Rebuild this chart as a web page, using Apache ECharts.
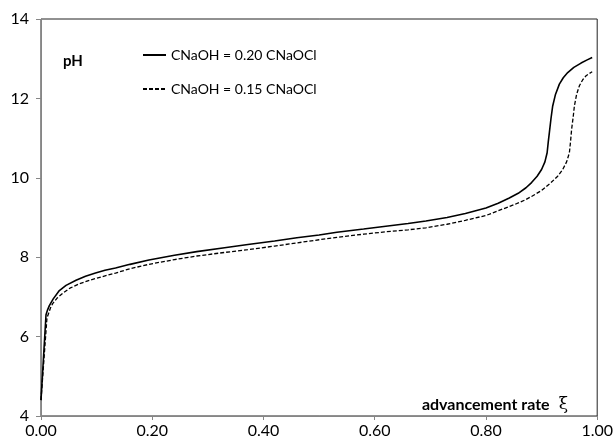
<!DOCTYPE html>
<html>
<head>
<meta charset="utf-8">
<script src="https://cdn.jsdelivr.net/npm/echarts@6/dist/echarts.min.js"></script>
<style>
  html, body { margin: 0; padding: 0; background: #fff; }
  #chart { width: 616px; height: 442px; }
</style>
</head>
<body>
<div id="chart"></div>
<script>
// advancement rate xi vs pH, two NaOH ratios
const seriesNames = ['CNaOH = 0.20 CNaOCl', 'CNaOH = 0.15 CNaOCl']

const ph020 = [
  [0, 4.4], [0.009, 6.55], [0.012, 6.68], [0.015, 6.78], [0.022, 6.95], [0.033, 7.16],
  [0.045, 7.29], [0.063, 7.42], [0.08, 7.52], [0.098, 7.60], [0.115, 7.67], [0.134, 7.73],
  [0.16, 7.82], [0.194, 7.93], [0.24, 8.05], [0.28, 8.14], [0.33, 8.24], [0.372, 8.32],
  [0.42, 8.41], [0.46, 8.49], [0.50, 8.56], [0.532, 8.63], [0.58, 8.71], [0.62, 8.78],
  [0.66, 8.85], [0.692, 8.91], [0.73, 9.00], [0.763, 9.10], [0.80, 9.24], [0.822, 9.36],
  [0.842, 9.49], [0.858, 9.61], [0.872, 9.75], [0.882, 9.88], [0.892, 10.04], [0.90, 10.21],
  [0.906, 10.40], [0.910, 10.63], [0.912, 10.90], [0.914, 11.14], [0.917, 11.50],
  [0.920, 11.81], [0.925, 12.10], [0.932, 12.36], [0.939, 12.52], [0.947, 12.65],
  [0.958, 12.78], [0.971, 12.89], [0.982, 12.97], [0.991, 13.03]
]

const ph015 = [
  [0, 4.4], [0.0107, 6.47], [0.014, 6.60], [0.017, 6.72], [0.021, 6.83], [0.029, 6.97],
  [0.039, 7.09], [0.052, 7.22], [0.069, 7.33], [0.09, 7.43], [0.11, 7.51], [0.134, 7.60],
  [0.16, 7.71], [0.194, 7.82], [0.24, 7.94], [0.28, 8.03], [0.33, 8.12], [0.372, 8.19],
  [0.42, 8.28], [0.46, 8.36], [0.50, 8.44], [0.532, 8.50], [0.58, 8.58], [0.62, 8.64],
  [0.66, 8.69], [0.692, 8.74], [0.73, 8.83], [0.763, 8.93], [0.80, 9.05], [0.822, 9.17],
  [0.852, 9.33], [0.87, 9.44], [0.882, 9.53], [0.90, 9.68], [0.917, 9.88], [0.929, 10.04],
  [0.938, 10.21], [0.945, 10.40], [0.950, 10.63], [0.952, 10.90], [0.954, 11.22],
  [0.957, 11.55], [0.959, 11.81], [0.963, 12.10], [0.968, 12.32], [0.974, 12.47],
  [0.98, 12.57], [0.986, 12.63], [0.991, 12.67]
]

const font = 'Lato, "Open Sans", sans-serif'

const chart = echarts.init(document.getElementById('chart'), null, { renderer: 'canvas' })

chart.setOption({
  animation: false,
  backgroundColor: '#fff',
  textStyle: { fontFamily: font, color: '#000' },
  grid: {
    left: 41, right: 13, top: 19, bottom: 26,
    show: true, borderColor: '#222', borderWidth: 1
  },
  legend: {
    orient: 'vertical',
    left: 142, top: 48,
    padding: 0,
    itemWidth: 23, itemHeight: 14, itemGap: 20,
    itemStyle: { opacity: 0 },
    textStyle: { fontFamily: font, fontSize: 14, color: '#000' },
    data: seriesNames
  },
  xAxis: {
    type: 'value',
    min: 0, max: 1, interval: 0.2,
    name: '{b|advancement rate}   {x|ξ}',
    nameLocation: 'end',
    nameGap: -29,
    nameTextStyle: {
      align: 'right', verticalAlign: 'bottom', padding: [0, 0, 3, 0],
      rich: {
        b: { fontFamily: font, fontWeight: 'bold', fontSize: 16, color: '#000' },
        x: { fontFamily: '"DejaVu Serif", "Liberation Serif", serif', fontSize: 17, color: '#000' }
      }
    },
    axisLine: { lineStyle: { color: '#868686', width: 1 } },
    axisTick: { show: true, length: 4, lineStyle: { color: '#868686' } },
    axisLabel: { fontSize: 16, color: '#000', margin: 7, formatter: v => v.toFixed(2) },
    splitLine: { show: false }
  },
  yAxis: {
    type: 'value',
    min: 4, max: 14, interval: 2,
    name: 'pH',
    nameLocation: 'end',
    nameGap: -42,
    nameTextStyle: {
      align: 'left', verticalAlign: 'middle', padding: [0, 0, 0, 22],
      fontFamily: font, fontWeight: 'bold', fontSize: 15, color: '#000'
    },
    axisLine: { show: true, lineStyle: { color: '#868686', width: 1 } },
    axisTick: { show: true, length: 5, lineStyle: { color: '#868686' } },
    axisLabel: { fontSize: 16, color: '#000', margin: 12 },
    splitLine: { show: false }
  },
  series: [
    {
      name: seriesNames[0],
      type: 'line',
      data: ph020,
      symbol: 'none',
      lineStyle: { color: '#000', width: 1.6, type: 'solid' },
      itemStyle: { color: '#000' }
    },
    {
      name: seriesNames[1],
      type: 'line',
      data: ph015,
      symbol: 'none',
      lineStyle: { color: '#000', width: 1.3, type: [4, 2] },
      itemStyle: { color: '#000' }
    }
  ]
})
</script>
</body>
</html>
